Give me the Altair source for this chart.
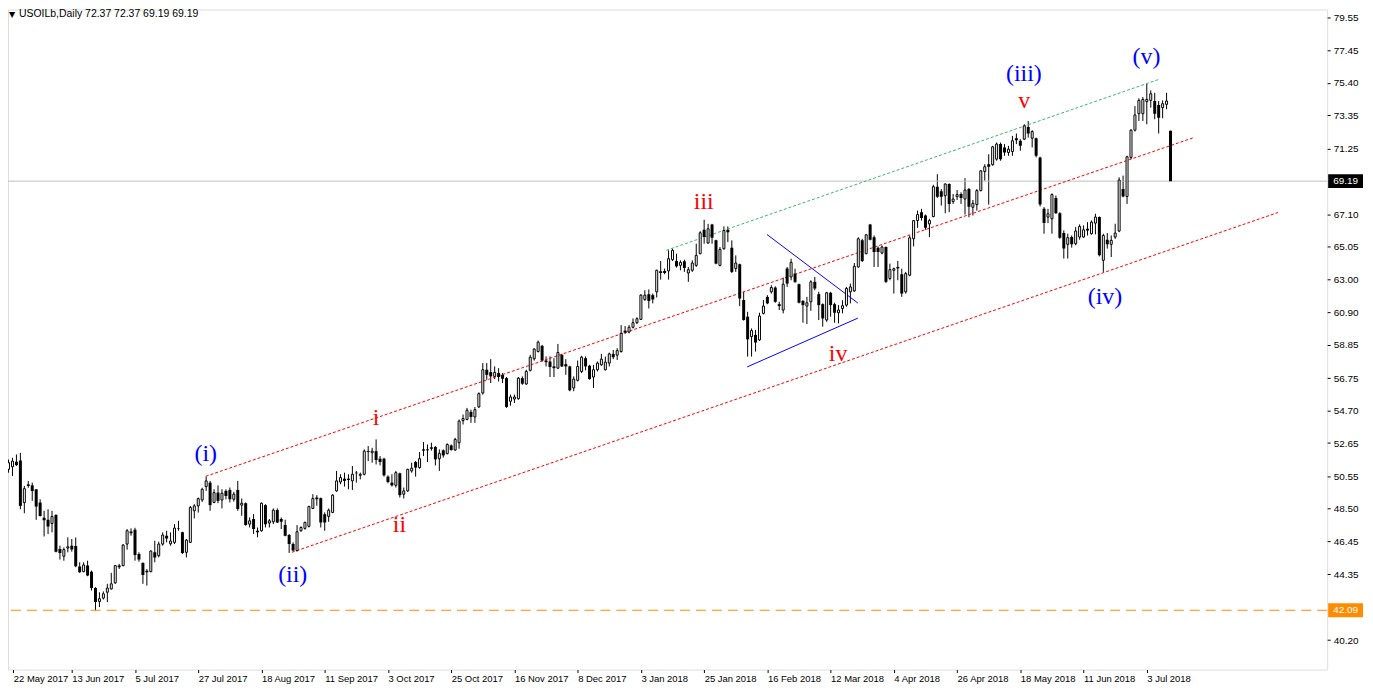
import altair as alt
import pandas as pd

# ---------------- data ----------------
date_labels = ["22 May 2017", "13 Jun 2017", "5 Jul 2017", "27 Jul 2017", "18 Aug 2017",
               "11 Sep 2017", "3 Oct 2017", "25 Oct 2017", "16 Nov 2017", "8 Dec 2017",
               "3 Jan 2018", "25 Jan 2018", "16 Feb 2018", "12 Mar 2018", "4 Apr 2018",
               "26 Apr 2018", "18 May 2018", "11 Jun 2018", "3 Jul 2018"]

price_ticks = [79.55, 77.45, 75.40, 73.35, 71.25, 67.10, 65.05, 63.00, 60.90, 58.85,
               56.75, 54.70, 52.65, 50.55, 48.50, 46.45, 44.35, 40.20]

open_ = [
    50.99, 51.15, 51.47, 51.55, 48.89, 50.04, 49.98, 49.73, 48.89, 47.93,
    47.80, 47.57, 48.10, 45.96, 45.50, 46.02, 46.17, 46.15, 44.85, 44.53,
    44.91, 44.53, 43.49, 42.65, 42.86, 43.23, 43.44, 43.82, 44.91, 44.91,
    46.27, 47.07, 47.17, 45.64, 45.08, 44.58, 44.53, 45.75, 45.54, 46.27,
    46.80, 46.29, 46.38, 47.26, 47.01, 45.75, 46.38, 48.37, 48.68, 49.06,
    49.90, 50.15, 48.90, 49.52, 49.06, 49.63, 49.69, 49.10, 49.69, 48.73,
    48.85, 47.53, 47.85, 47.11, 47.11, 48.73, 47.60, 47.68, 48.43, 47.85,
    47.47, 46.84, 46.28, 45.86, 47.11, 47.26, 47.39, 48.52, 49.21, 49.17,
    48.16, 48.02, 48.27, 49.63, 50.19, 50.40, 50.40, 50.26, 50.78, 50.61,
    50.68, 52.14, 52.04, 52.14, 51.66, 51.66, 50.53, 50.15, 49.98,
    50.74, 49.42, 49.63, 50.89, 51.45, 51.10, 52.25, 52.25, 52.38, 52.40,
    51.66, 52.19, 51.98, 52.50, 52.21, 52.67, 54.07, 54.14, 54.62, 54.30,
    54.93, 55.81, 57.28, 57.13, 56.86, 57.07, 56.96, 56.75, 55.29, 55.43,
    55.45, 56.75, 56.38, 57.24, 57.97, 58.43, 58.79, 57.86, 57.80, 57.49,
    57.38, 58.22, 57.63, 57.49, 56.13, 56.61, 57.17, 58.01, 57.53, 56.82,
    57.28, 57.59, 57.28, 57.70, 58.28, 58.20, 58.43, 59.75, 59.66, 59.96,
    60.25, 60.46, 61.72, 62.05, 61.99, 62.20, 63.50, 63.52, 63.52, 64.23,
    64.15, 63.87, 64.13, 63.39, 63.56, 63.87, 64.61, 66.12, 65.28, 66.45,
    65.45, 63.87, 64.92, 66.12, 64.99, 63.67, 63.94, 61.68, 60.63, 59.37,
    59.48, 59.16, 60.84, 61.88, 62.20, 62.47, 61.42, 61.05, 63.67, 63.14,
    63.35, 62.68, 61.63, 61.30, 61.57, 62.83, 62.05, 61.42, 60.42, 62.14,
    61.42, 60.88, 61.15, 61.36, 62.20, 62.26, 63.77, 65.45, 64.61, 66.45,
    65.65, 64.98, 64.65, 65.03, 63.04, 63.56, 63.77, 63.31, 62.20, 63.25,
    65.55, 66.70, 67.23, 67.02, 66.49, 66.95, 68.84, 68.55, 68.27, 69.01,
    67.90, 68.21, 68.38, 68.06, 68.69, 67.54, 67.71, 68.59, 69.80, 70.26,
    70.23, 70.58, 71.53, 71.32, 71.00, 71.06, 71.90, 71.74, 71.84, 72.61,
    71.90, 71.90, 70.69, 67.44, 66.92, 66.81, 68.13, 67.17, 65.91, 65.20,
    65.66, 65.24, 65.66, 65.66, 66.18, 65.87, 66.54, 66.92, 64.19, 65.49,
    65.20, 65.66, 66.04, 68.70, 68.22, 70.69, 72.41, 73.45, 73.45, 74.21,
    74.29, 74.25, 74.00, 73.83, 74.04, 72.37,
]
high_ = [
    51.61, 51.72, 51.93, 52.03, 49.94, 50.25, 50.15, 49.73, 49.10, 48.37,
    48.47, 48.37, 48.16, 46.17, 46.06, 46.69, 46.59, 46.69, 45.12, 45.12,
    45.22, 44.60, 43.55, 43.23, 43.28, 43.76, 44.45, 44.95, 45.02, 46.27,
    47.22, 47.26, 47.30, 45.75, 45.12, 44.70, 45.87, 46.48, 46.42, 47.01,
    47.11, 47.01, 47.53, 47.74, 47.05, 46.59, 48.68, 48.79, 49.21, 49.83,
    50.53, 50.26, 49.73, 49.98, 49.73, 49.73, 49.84, 49.57, 50.26, 49.15,
    48.90, 47.95, 48.16, 47.32, 48.90, 48.79, 47.85, 48.52, 48.52, 47.95,
    47.81, 46.91, 46.38, 47.47, 47.39, 47.68, 48.69, 49.42, 49.36, 49.21,
    48.27, 48.52, 49.42, 50.89, 50.68, 50.78, 50.68, 51.20, 50.89, 50.78,
    52.25, 52.46, 52.35, 52.88, 51.83, 51.72, 50.61, 50.68, 50.89,
    50.78, 49.84, 51.03, 51.41, 51.52, 52.08, 52.71, 52.56, 52.67, 52.46,
    52.25, 52.25, 52.63, 52.56, 52.98, 54.14, 54.45, 54.87, 54.76, 54.93,
    55.85, 57.70, 57.70, 57.95, 57.49, 57.38, 57.07, 56.82, 55.71, 55.71,
    56.82, 56.86, 57.28, 58.22, 58.64, 59.12, 58.85, 58.12, 58.12, 58.01,
    58.91, 58.28, 57.95, 57.53, 56.86, 57.86, 58.16, 58.12, 57.59, 57.59,
    57.80, 58.28, 58.11, 58.36, 58.53, 58.64, 60.10, 60.04, 60.10, 60.52,
    60.59, 62.05, 62.30, 62.35, 62.09, 63.60, 64.15, 63.67, 64.82, 64.92,
    64.61, 64.19, 64.23, 63.77, 64.19, 65.24, 66.03, 66.75, 66.49, 66.49,
    65.49, 65.03, 66.33, 66.33, 65.45, 64.50, 63.98, 62.20, 60.94, 59.89,
    59.79, 60.88, 61.68, 61.99, 62.62, 62.55, 61.57, 63.10, 63.77, 64.29,
    63.66, 62.72, 61.67, 61.88, 62.93, 63.14, 62.20, 61.47, 62.20, 62.20,
    61.51, 61.36, 61.67, 62.51, 62.72, 64.02, 65.65, 65.55, 65.86, 66.49,
    65.76, 65.07, 65.13, 65.07, 63.98, 63.73, 64.15, 63.66, 63.46, 65.76,
    66.74, 67.33, 67.44, 67.08, 66.81, 68.96, 69.63, 68.69, 69.05, 69.05,
    68.38, 68.63, 68.48, 69.38, 68.76, 68.00, 68.69, 69.89, 70.26, 70.89,
    71.42, 71.63, 71.63, 71.53, 71.42, 72.05, 72.20, 71.84, 72.78, 72.99,
    72.41, 71.94, 70.73, 67.55, 67.44, 68.42, 68.28, 67.23, 66.08, 65.87,
    65.76, 66.29, 66.46, 66.39, 66.60, 66.71, 67.13, 66.96, 65.87, 65.91,
    65.76, 66.50, 69.43, 69.54, 70.79, 72.47, 73.93, 74.42, 74.50, 75.34,
    74.92, 74.77, 74.25, 74.29, 74.77, 72.37,
]
low_ = [
    50.78, 50.57, 51.20, 48.47, 48.22, 49.83, 49.00, 47.80, 48.01, 46.75,
    46.90, 47.01, 45.75, 45.29, 45.22, 45.75, 45.79, 44.81, 44.45, 44.49,
    44.24, 43.34, 42.08, 42.29, 42.77, 42.61, 43.40, 43.76, 44.70, 44.87,
    45.92, 46.80, 45.22, 45.16, 43.76, 43.65, 44.49, 45.12, 45.43, 46.17,
    46.38, 46.17, 46.27, 47.11, 45.64, 45.43, 46.34, 47.89, 48.26, 48.93,
    49.63, 48.37, 48.85, 48.85, 48.52, 49.10, 48.90, 48.95, 48.37, 48.06,
    47.43, 47.32, 46.91, 46.70, 47.05, 47.32, 47.32, 47.53, 47.60, 47.22,
    46.76, 45.71, 45.80, 45.80, 47.05, 47.18, 47.32, 48.48, 48.69, 47.32,
    47.11, 47.68, 48.22, 49.57, 50.05, 49.90, 49.73, 49.69, 50.15, 50.36,
    50.61, 51.51, 51.41, 51.30, 51.24, 50.53, 50.11, 49.90, 49.84,
    49.21, 49.15, 49.57, 50.78, 50.53, 51.03, 51.83, 51.45, 52.17, 51.24,
    50.89, 51.73, 51.94, 52.17, 52.17, 52.29, 53.82, 54.09, 53.93, 53.93,
    54.87, 55.71, 56.65, 56.44, 56.69, 56.54, 56.44, 54.87, 55.01, 55.18,
    55.39, 56.33, 56.33, 57.17, 57.86, 58.37, 57.80, 57.49, 56.82, 56.82,
    57.32, 57.45, 56.96, 55.92, 55.92, 56.54, 57.07, 57.24, 56.65, 56.13,
    57.17, 57.53, 57.23, 57.49, 57.95, 57.90, 58.36, 59.54, 59.58, 59.89,
    60.17, 60.42, 61.63, 61.15, 61.47, 61.84, 62.97, 63.31, 62.97, 64.15,
    63.73, 63.56, 63.46, 62.83, 63.46, 63.77, 64.57, 65.24, 65.24, 65.24,
    63.94, 63.81, 64.86, 65.34, 63.39, 63.46, 61.30, 60.38, 58.11, 58.11,
    58.43, 59.10, 60.77, 61.42, 62.09, 61.51, 61.05, 60.84, 62.51, 62.93,
    62.76, 61.47, 60.25, 60.17, 61.00, 62.30, 60.42, 60.00, 60.31, 60.63,
    60.25, 60.21, 60.84, 61.26, 61.47, 62.20, 63.73, 64.08, 64.57, 65.45,
    63.77, 63.77, 64.57, 62.76, 62.93, 62.09, 62.93, 61.88, 62.09, 63.18,
    65.07, 66.24, 66.70, 66.12, 65.65, 66.91, 68.13, 67.65, 67.16, 67.23,
    67.75, 68.00, 67.75, 67.08, 66.91, 67.02, 67.33, 68.55, 69.22, 67.71,
    70.16, 70.48, 70.48, 70.79, 70.79, 70.79, 71.53, 71.11, 71.78, 71.94,
    71.32, 70.69, 67.59, 65.87, 66.54, 65.87, 67.13, 65.55, 64.30, 64.30,
    64.99, 65.14, 65.49, 65.62, 65.76, 65.81, 65.83, 64.44, 63.46, 64.93,
    64.40, 65.55, 65.97, 68.17, 67.75, 70.58, 72.32, 72.99, 72.99, 72.78,
    73.83, 73.10, 72.20, 73.16, 73.73, 69.19,
]
close_ = [
    51.41, 51.51, 51.26, 48.68, 49.77, 49.94, 49.62, 48.64, 48.05, 47.78,
    47.38, 48.01, 45.79, 45.71, 45.92, 46.10, 45.92, 44.87, 44.49, 44.95,
    44.28, 43.49, 42.61, 42.82, 43.13, 43.49, 43.76, 44.91, 44.81, 46.21,
    47.11, 46.96, 45.58, 45.29, 44.32, 44.49, 45.83, 45.43, 46.27, 46.84,
    46.63, 46.46, 47.28, 47.22, 45.71, 46.52, 48.58, 48.68, 49.14, 49.73,
    50.26, 48.73, 49.52, 49.00, 49.48, 49.31, 49.10, 49.42, 48.48, 48.85,
    47.47, 47.74, 47.22, 47.01, 48.85, 47.53, 47.74, 48.41, 47.64, 47.68,
    46.80, 46.28, 45.86, 47.05, 47.32, 47.64, 48.64, 49.15, 49.10, 47.64,
    47.64, 48.41, 49.36, 50.26, 50.47, 50.26, 50.32, 50.68, 50.74, 50.68,
    52.14, 52.08, 52.14, 51.58, 51.45, 50.61, 50.19, 49.98, 50.78,
    49.36, 49.63, 50.99, 51.06, 51.10, 51.66, 52.17, 52.19, 52.29, 51.62,
    52.00, 51.87, 52.56, 52.21, 52.88, 54.03, 54.20, 54.72, 54.30, 54.76,
    55.77, 57.28, 56.96, 56.86, 57.11, 56.82, 56.71, 54.93, 55.56, 55.56,
    56.75, 56.40, 57.17, 58.07, 58.58, 59.02, 57.86, 57.76, 57.45, 57.38,
    58.37, 57.49, 57.49, 55.98, 56.69, 57.49, 58.07, 57.49, 56.69, 57.28,
    57.70, 57.95, 57.76, 58.28, 58.07, 58.49, 59.58, 59.62, 59.96, 60.25,
    60.50, 61.99, 61.99, 61.63, 61.72, 63.56, 63.39, 63.39, 64.29, 64.82,
    63.81, 64.06, 63.71, 63.60, 64.02, 64.50, 65.93, 65.66, 66.18, 65.61,
    63.98, 64.88, 66.07, 65.97, 63.46, 64.02, 61.78, 60.42, 59.20, 59.75,
    59.00, 60.67, 61.30, 61.47, 62.47, 61.57, 61.30, 62.68, 62.72, 64.06,
    62.83, 61.51, 61.36, 61.51, 62.83, 62.41, 61.36, 60.52, 62.14, 61.36,
    60.88, 61.05, 61.32, 62.41, 62.51, 63.81, 65.55, 64.15, 65.80, 65.49,
    64.71, 64.71, 65.03, 62.83, 63.60, 63.66, 63.68, 62.09, 63.35, 65.61,
    66.70, 67.08, 66.87, 66.24, 66.70, 68.84, 68.21, 68.21, 69.01, 67.75,
    68.06, 68.34, 68.13, 68.63, 67.58, 67.79, 68.59, 69.84, 70.10, 70.10,
    71.36, 71.53, 70.58, 71.00, 71.21, 71.74, 71.78, 71.42, 72.68, 72.20,
    72.32, 70.79, 67.71, 66.54, 67.13, 68.34, 67.17, 65.62, 64.93, 65.62,
    65.20, 66.04, 66.33, 66.12, 66.08, 66.60, 66.92, 64.51, 65.76, 65.20,
    65.45, 65.91, 69.26, 68.22, 70.73, 72.41, 73.37, 74.29, 74.35, 74.35,
    74.71, 73.45, 73.20, 74.08, 74.25, 69.19,
]

# Elliott wave labels (bar index, price, text, colour)
wave_text = ["(i)", "(ii)", "(iii)", "(iv)", "(v)", "i", "ii", "iii", "iv", "v"]
wave_bar = [49.9, 71.9, 256.9, 277.4, 287.9, 93.0, 98.9, 175.9, 209.9, 257.0]
wave_price = [51.49, 43.89, 75.50, 61.42, 76.57, 53.76, 47.03, 67.46, 57.84, 73.80]
wave_color = ["#0000ff"] * 5 + ["#ff0000"] * 5

# trend / channel lines (bar index, price)
line_bar1 = [49.9, 71.7, 166.4, 191.9, 186.9]
line_p1 = [50.55, 45.75, 64.82, 65.82, 57.46]
line_bar2 = [300.0, 321.2, 291.2, 214.9, 214.9]
line_p2 = [71.95, 67.21, 75.63, 61.49, 60.54]
line_color = ["#ff0000", "#ff0000", "#3cb371", "#0000ff", "#0000ff"]
line_dotted = [True, True, True, False, False]

last_price = 69.19
level_price = 42.09
header = "USOILb,Daily  72.37 72.37 69.19 69.19"

# ---------------- frames ----------------
n = len(open_)
candles = pd.DataFrame({"i": list(range(n)), "open": open_, "high": high_,
                        "low": low_, "close": close_})
candles["bull"] = candles["close"] >= candles["open"]

waves = pd.DataFrame({"i": wave_bar, "p": wave_price, "t": wave_text, "c": wave_color})
lines = pd.DataFrame({"i": line_bar1, "p": line_p1, "i2": line_bar2, "p2": line_p2,
                      "c": line_color, "dotted": line_dotted})
boxes = pd.DataFrame({"p": [last_price, level_price],
                      "lab": [f"{last_price:.2f}", f"{level_price:.2f}"],
                      "bg": ["#000000", "#ff8c00"]})

W, H = 1325, 663
xs = alt.Scale(domain=[1.125, 332.375], nice=False, zero=False)
ys = alt.Scale(domain=[38.345, 80.03], nice=False, zero=False)

label_js = "[" + ",".join(f"'{d}'" for d in date_labels) + "]"
x_axis = alt.Axis(values=[1.2] + [16 * k for k in range(1, len(date_labels))],
                  labelExpr=f"{label_js}[round(datum.value / 16)]",
                  orient="bottom", domain=False, grid=False, tickSize=3, tickColor="black",
                  labelAlign="left", labelBaseline="top", labelPadding=1,
                  labelFont="Liberation Sans", labelFontSize=9.5, labelColor="black",
                  labelOverlap=False, labelFlush=False, title=None)
y_axis = alt.Axis(values=price_ticks, format=".2f", orient="right", domain=False, grid=False,
                  tickSize=3, tickColor="black", labelPadding=3, labelFont="Liberation Sans",
                  labelFontSize=10, labelColor="black", labelOverlap=False, labelFlush=False,
                  title=None)


def X(field):
    return alt.X(field, type="quantitative", scale=xs, axis=x_axis)


def Y(field):
    return alt.Y(field, type="quantitative", scale=ys, axis=y_axis)


base = alt.Chart(candles)

wicks = base.mark_rule(color="black", strokeWidth=1, clip=True).encode(
    x=X("i"), y=Y("low"), y2="high:Q")

hline = alt.Chart(boxes).transform_filter(alt.datum.p == last_price).mark_rule(
    color="#c0c0c0", strokeWidth=1).encode(y=Y("p"))
level = alt.Chart(boxes).transform_filter(alt.datum.p == level_price).mark_rule(
    color="#ff8c00", strokeWidth=1, strokeDash=[10, 6]).encode(y=Y("p"))

bear = base.transform_filter("!datum.bull").mark_bar(
    size=3, color="black", orient="vertical", clip=True).encode(
    x=X("i"), y=Y("open"), y2="close:Q")
bull = base.transform_filter("datum.bull").mark_bar(
    size=2, fill="white", stroke="black", strokeWidth=1, orient="vertical", clip=True).encode(
    x=X("i"), y=Y("open"), y2="close:Q")

dotted = alt.Chart(lines).transform_filter("datum.dotted").mark_rule(
    strokeWidth=1, strokeDash=[3, 2], clip=True).encode(
    x=X("i"), x2="i2:Q", y=Y("p"), y2="p2:Q", color=alt.Color("c:N", scale=None))
solid = alt.Chart(lines).transform_filter("!datum.dotted").mark_rule(
    strokeWidth=1, clip=True).encode(
    x=X("i"), x2="i2:Q", y=Y("p"), y2="p2:Q", color=alt.Color("c:N", scale=None))

wave_labels = alt.Chart(waves).mark_text(
    font="Liberation Serif", fontSize=24, align="center", baseline="alphabetic").encode(
    x=X("i"), y=Y("p"), text="t:N", color=alt.Color("c:N", scale=None))

box_bg = alt.Chart(boxes).mark_rect(yOffset=-7, y2Offset=7).encode(
    x=alt.value(W + 1), x2=alt.value(W + 36), y=Y("p"), y2="p:Q",
    color=alt.Color("bg:N", scale=None))
box_txt = alt.Chart(boxes).mark_text(
    align="left", baseline="middle", color="white", font="Liberation Sans", fontSize=10).encode(
    x=alt.value(W + 6), y=Y("p"), text="lab:N")

tri = alt.Chart(boxes).transform_filter(alt.datum.p == last_price).mark_text(
    text="\u25bc", font="DejaVu Sans", fontSize=8, align="left", baseline="top",
    color="black").encode(x=alt.value(1), y=alt.value(2))
head = alt.Chart(boxes).transform_filter(alt.datum.p == last_price).mark_text(
    text=header, font="Liberation Sans", fontSize=10.5, align="left", baseline="top",
    color="black").encode(x=alt.value(11), y=alt.value(0))

chart = alt.layer(wicks, hline, level, dotted, solid, bear, bull, wave_labels,
                  box_bg, box_txt, tri, head).properties(
    width=W, height=H,
    autosize=alt.AutoSizeParams(type="none"),
    padding={"left": 0, "top": 0, "right": 38, "bottom": 15},
).configure_view(stroke="black", strokeWidth=1).configure(background="white")

chart.save("out.html", embed_options={"renderer": "svg", "actions": False})
